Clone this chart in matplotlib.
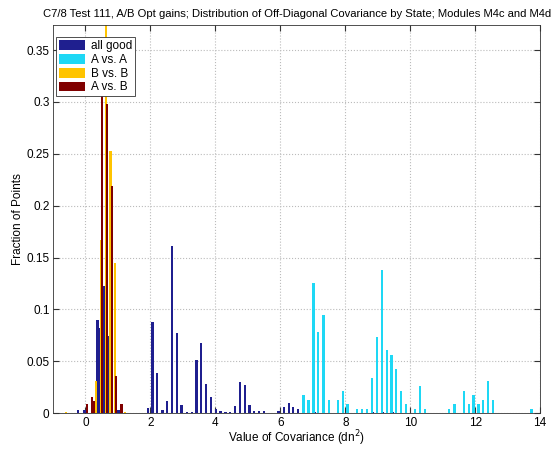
import numpy as np
import matplotlib.pyplot as plt

plt.rcParams['font.family'] = ['Liberation Sans', 'DejaVu Sans']

# covariance bin positions and fraction of points
good_x = [-0.24, -0.03, 0.28, 0.37, 0.43, 0.58, 0.73, 1.02,
          1.92, 2.06, 2.21, 2.37, 2.51, 2.66, 2.81, 2.96, 3.12, 3.27,
          3.42, 3.56, 3.71, 3.86, 4.01, 4.16, 4.31, 4.46, 4.61, 4.75,
          4.91, 5.05, 5.20, 5.35, 5.50, 5.63, 5.78, 5.94, 6.11, 6.26,
          6.40, 6.54, 7.05, 7.35, 8.85, 9.15, 9.45, 11.93]
good_y = [0.003, 0.003, 0.011, 0.090, 0.082, 0.123, 0.074, 0.003,
          0.005, 0.088, 0.039, 0.003, 0.012, 0.161, 0.077, 0.008, 0.001, 0.001,
          0.051, 0.068, 0.028, 0.016, 0.004, 0.002, 0.001, 0.001, 0.007, 0.030,
          0.027, 0.008, 0.002, 0.002, 0.002, 0.0005, 0.0005, 0.002, 0.006, 0.010,
          0.006, 0.004, 0.001, 0.001, 0.001, 0.001, 0.001, 0.008]

aa_x = [6.71, 6.87, 7.02, 7.17, 7.33, 7.49, 7.78, 7.92, 8.07, 8.36,
        8.51, 8.66, 8.82, 8.97, 9.13, 9.28, 9.42, 9.57, 9.72, 9.87,
        10.15, 10.31, 10.46, 11.20, 11.36, 11.66, 11.80, 11.95, 12.10,
        12.25, 12.40, 12.55, 13.73]
aa_y = [0.017, 0.0125, 0.125, 0.078, 0.095, 0.0125, 0.0125, 0.0215, 0.0087, 0.004,
        0.004, 0.004, 0.034, 0.0735, 0.138, 0.061, 0.056, 0.043, 0.021, 0.0087,
        0.004, 0.026, 0.004, 0.004, 0.0087, 0.021, 0.0087, 0.017, 0.0087,
        0.0125, 0.031, 0.0125, 0.004]

bb_x = [-0.60, 0.33, 0.48, 0.64, 0.77, 0.90, 1.21]
bb_y = [0.001, 0.031, 0.167, 0.400, 0.253, 0.145, 0.001]

ab_x = [0.05, 0.20, 0.26, 0.50, 0.66, 0.82, 0.95, 1.11]
ab_y = [0.009, 0.016, 0.012, 0.340, 0.298, 0.219, 0.036, 0.009]

labels = ['all good', 'A vs. A', 'B vs. B', 'A vs. B']
colors = ['#1f1f8f', '#1ed8f5', '#ffc400', '#800000']

fig = plt.figure(figsize=(5.58, 4.5), dpi=100)
ax = fig.add_axes([0.095, 0.082, 0.873, 0.862])

w = 0.07
ax.bar(good_x, good_y, width=w, color=colors[0], label=labels[0], linewidth=0)
ax.bar(aa_x, aa_y, width=w, color=colors[1], label=labels[1], linewidth=0)
ax.bar(bb_x, bb_y, width=w, color=colors[2], label=labels[2], linewidth=0)
ax.bar(ab_x, ab_y, width=w, color=colors[3], label=labels[3], linewidth=0)

ax.set_xlim(-1, 14)
ax.set_ylim(0, 0.374)
ax.set_xticks(np.arange(0, 15, 2))
ax.set_yticks([0, 0.05, 0.1, 0.15, 0.2, 0.25, 0.3, 0.35])
ax.set_yticklabels(['0', '0.05', '0.1', '0.15', '0.2', '0.25', '0.3', '0.35'])
ax.tick_params(direction='in', top=True, right=True, labelsize=8.5, length=4,
               color='#333333', pad=2.5)
ax.grid(True, linestyle=':', color='#bbbbbb', linewidth=0.8)
ax.set_axisbelow(True)
for s in ax.spines.values():
    s.set_linewidth(0.6)
    s.set_color('#333333')

ax.set_title('C7/8 Test 111, A/B Opt gains; Distribution of Off-Diagonal Covariance by State; Modules M4c and M4d',
             fontsize=8.1, pad=6)
ax.set_xlabel('Value of Covariance (dn$^2$)', fontsize=8.5, labelpad=0)
ax.set_ylabel('Fraction of Points', fontsize=8.5, labelpad=2)

leg = ax.legend(loc='upper left', bbox_to_anchor=(0.006, 0.969), fontsize=8.5,
                fancybox=False, edgecolor='#333333',
                handlelength=2.2, handleheight=0.9, labelspacing=0.15,
                borderpad=0.25, handletextpad=0.5, borderaxespad=0, framealpha=1)
leg.get_frame().set_linewidth(0.6)

fig.savefig('out.png', dpi=100)
